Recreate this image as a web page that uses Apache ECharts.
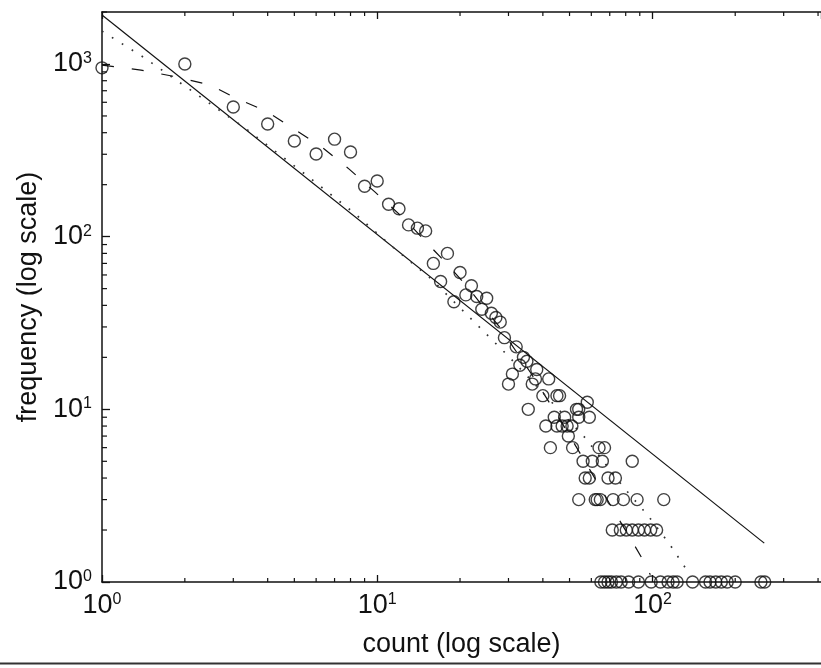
<!DOCTYPE html>
<html>
<head>
<meta charset="utf-8">
<script src="https://cdn.jsdelivr.net/npm/echarts@6/dist/echarts.min.js"></script>
<style>
html,body{margin:0;padding:0;background:#fff;}
#c{width:821px;height:668px;}
</style>
</head>
<body>
<div id="c"></div>
<script>
// ---- observed points: count (x) and frequency (y) ----
var countX = [1,2,3,4,5,6,7,8,9,10,11,12,13,14,15,16,17,18,19,20,21,22,23,24,25,26,27,28,29,30,31,32,33,34,35,
  35.4,36.6,37.6,38,40,41,42,42.6,44,45,45,46,47,48,49,49.5,51,51.3,53,54,54,56,57,58,59,59,60.5,64,65.8,67,69,73.4,84.5,
  54,62,63,64.7,72,78.5,88,110,
  71.5,76.5,80.4,84.5,89,93.6,98.6,103.6,
  65,67,69,71,74,77,82,89,99,107,114,119,123,140,156,162,170,178,187,200,248,256];
var freqY = [950,1000,563,449,358,301,367,309,196,210,154,145,117,112,108,70,55,80,42,62,46,52,45,38,44,36,34,32,26,14,16,23,18,20,19,
  10,14,15,17,12,8,15,6,9,12,8,12,8,9,8,7,8,6,10,10,9,5,4,11,4,9,5,6,5,6,4,4,5,
  3,3,3,3,3,3,3,3,
  2,2,2,2,2,2,2,2,
  1,1,1,1,1,1,1,1,1,1,1,1,1,1,1,1,1,1,1,1,1,1];

// ---- fitted curves ----
var solidX = [1, 255];
var solidY = [1920, 1.68];

var dashX = [1,1.386,1.874,2.47,3.12,3.95,4.99,6.36,7.91,9.83,12.6,14.7,17.7,21.1,28,36,46.3,63.6,72.1,83.9,95.1,98.3];
var dashY = [985,922,840,755,626,534,420,326,246,181,126,97,71,52,29.6,16.4,8.67,3.69,2.61,1.75,1.24,1.1];

var dotX = [1,1.43,2.0,3.31,5.47,8.25,11.3,15.6,20.9,29.9,57.1,78.4,96.7,116,135];
var dotY = [1550,1082,745,425,230,137,88,57.6,36.1,20.4,6.82,3.55,2.41,1.64,1.14];

// ---- axis ticks ----
var xMinorTicks = [2,3,4,5,6,7,8,9,20,30,40,50,60,70,80,90,200,300,400];
var yMinorTicks = [2,3,4,5,6,7,8,9,20,30,40,50,60,70,80,90,200,300,400,500,600,700,800,900,2000];
var xMin = 1, xMax = 410, yMin = 1, yMax = 2000;

function zip(a, b) { return a.map(function (v, i) { return [v, b[i]]; }); }

var FONT = '"Liberation Sans", Arial, Helvetica, sans-serif';
function powLabel(v) {
  var e = Math.log10(v);
  var r = Math.round(e);
  if (Math.abs(e - r) > 1e-6) return '';
  return '{b|10}{s|' + r + '}';
}
var rich = {
  b: {fontSize: 27, fontFamily: FONT, color: '#111', lineHeight: 27},
  s: {fontSize: 16, fontFamily: FONT, color: '#111', lineHeight: 10, verticalAlign: 'top'}
};

var chart = echarts.init(document.getElementById('c'), null, {renderer: 'canvas'});
var option = {
  animation: false,
  backgroundColor: '#fff',
  grid: {left: 102, right: 0, top: 12, bottom: 86, containLabel: false},
  xAxis: [{
    type: 'log', logBase: 10, min: xMin, max: xMax, position: 'bottom',
    name: 'count (log scale)', nameLocation: 'middle', nameGap: 49,
    nameTextStyle: {fontSize: 27, fontFamily: FONT, color: '#111'},
    axisLine: {show: true, lineStyle: {color: '#111', width: 1.5}},
    axisTick: {show: true, inside: true, length: 7, lineStyle: {color: '#111', width: 1.3}},
    axisLabel: {show: true, margin: 10, formatter: powLabel, rich: rich, showMaxLabel: false},
    splitLine: {show: false}, minorTick: {show: false}
  }, {
    type: 'log', logBase: 10, min: xMin, max: xMax, position: 'top',
    axisLine: {show: true, lineStyle: {color: '#111', width: 1.5}},
    axisTick: {show: true, inside: true, length: 7, lineStyle: {color: '#111', width: 1.3}},
    axisLabel: {show: false}, splitLine: {show: false}
  }],
  yAxis: [{
    type: 'log', logBase: 10, min: yMin, max: yMax, position: 'left',
    name: 'frequency (log scale)', nameLocation: 'middle', nameGap: 57,
    nameTextStyle: {fontSize: 27, fontFamily: FONT, color: '#111'},
    axisLine: {show: true, lineStyle: {color: '#111', width: 1.5}},
    axisTick: {show: true, inside: true, length: 8, lineStyle: {color: '#111', width: 1.3}},
    axisLabel: {show: true, margin: 10, formatter: powLabel, rich: rich, showMaxLabel: false},
    splitLine: {show: false}
  }],
  graphic: [{
    type: 'line', shape: {x1: 0, y1: 663.5, x2: 821, y2: 663.5},
    style: {stroke: '#333', lineWidth: 2}, silent: true
  }],
  series: [
    {
      type: 'custom', name: 'xticks', clip: false, silent: true,
      data: xMinorTicks.map(function (v) { return [v, yMin]; }),
      renderItem: function (params, api) {
        var v = api.value(0);
        var b = api.coord([v, yMin]);
        var t = api.coord([v, yMax]);
        var st = {stroke: '#111', lineWidth: 1.2};
        return {type: 'group', children: [
          {type: 'line', shape: {x1: b[0], y1: b[1], x2: b[0], y2: b[1] - 4}, style: st},
          {type: 'line', shape: {x1: t[0], y1: t[1], x2: t[0], y2: t[1] + 4}, style: st}
        ]};
      }
    },
    {
      type: 'custom', name: 'yticks', clip: false, silent: true,
      data: yMinorTicks.map(function (v) { return [xMin, v]; }),
      renderItem: function (params, api) {
        var v = api.value(1);
        var p = api.coord([xMin, v]);
        return {type: 'line', shape: {x1: p[0], y1: p[1], x2: p[0] + 5, y2: p[1]},
          style: {stroke: '#111', lineWidth: 1.2}};
      }
    },
    {
      type: 'line', name: 'fit', data: zip(solidX, solidY), showSymbol: false, clip: false,
      lineStyle: {color: '#111', width: 1.2}, z: 3
    },
    {
      type: 'line', name: 'dashed', data: zip(dashX, dashY), showSymbol: false, clip: false,
      lineStyle: {color: '#111', width: 1.2, type: [12, 18]}, z: 3
    },
    {
      type: 'line', name: 'dotted', data: zip(dotX, dotY), showSymbol: false, clip: false,
      lineStyle: {color: '#333', width: 1.7, type: [1.7, 10]}, z: 3
    },
    {
      type: 'scatter', name: 'obs', data: zip(countX, freqY), clip: false,
      symbol: 'circle', symbolSize: 12,
      itemStyle: {color: 'rgba(0,0,0,0)', borderColor: '#111', borderWidth: 1.4}, z: 4
    }
  ]
};
chart.setOption(option);
</script>
</body>
</html>
